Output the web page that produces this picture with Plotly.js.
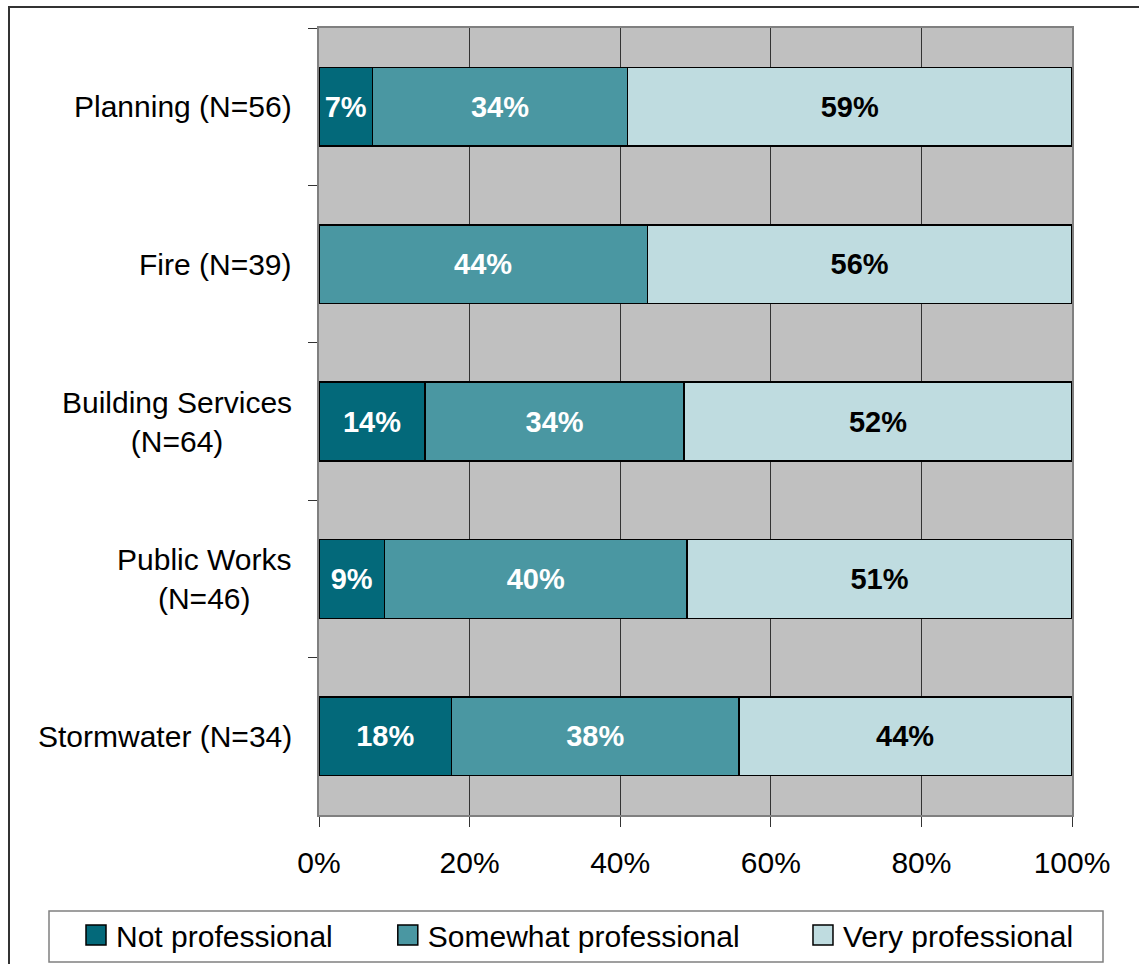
<!DOCTYPE html>
<html>
<head>
<meta charset="utf-8">
<script src="https://cdn.plot.ly/plotly-3.0.1.min.js"></script>
<style>
  body { margin: 0; background: #fff; }
  #chart { width: 1139px; height: 964px; }
</style>
</head>
<body>
<div id="chart"></div>
<script>
// categories, top to bottom
const categories = ['Planning (N=56)', 'Fire (N=39)', 'Building Services<br>(N=64)', 'Public Works<br>(N=46)', 'Stormwater (N=34)'];

// percent of respondents
const notProfessional = [7.1, 0, 14.1, 8.7, 17.6];
const somewhatProfessional = [33.9, 43.6, 34.4, 40.2, 38.2];
const veryProfessional = [59.0, 56.4, 51.5, 51.1, 44.1];

const seriesNames = ['Not professional', 'Somewhat professional', 'Very professional'];
const xTicks = [0, 20, 40, 60, 80, 100];

const FONT = '"Liberation Sans", Arial, sans-serif';
const pad = n => '\u00A0'.repeat(n);

function pctLabels(vals) {
    return vals.map(v => v > 0 ? Math.round(v) + '%' : '');
}

function barTrace(vals, name, color, textColor) {
    return {
        type: 'bar',
        orientation: 'h',
        x: vals,
        y: categories,
        name: name,
        text: pctLabels(vals),
        textposition: 'inside',
        insidetextanchor: 'middle',
        textangle: 0,
        constraintext: 'none',
        textfont: { family: FONT, size: 29, color: textColor, weight: 'bold' },
        marker: { color: color, line: { color: '#000000', width: 1.5 } },
        hoverinfo: 'name+x'
    };
}

const traces = [
    barTrace(notProfessional, seriesNames[0] + pad(6), '#03697A', '#ffffff'),
    barTrace(somewhatProfessional, seriesNames[1] + pad(7), '#4A97A2', '#ffffff'),
    barTrace(veryProfessional, seriesNames[2], '#BFDCE0', '#000000')
];

// px -> paper helpers (plot area is 319..1072 x 28..815)
const L = 319, R = 1072, T = 28, B = 815;
const px = x => (x - L) / (R - L);
const py = y => (B - y) / (B - T);

// y tick labels as centred multi-line annotations
const catLabels = categories.map(c => ({
    xref: 'paper', yref: 'y',
    x: px(294), y: c,
    xanchor: 'right', yanchor: 'middle',
    align: 'center',
    text: c,
    showarrow: false,
    font: { family: FONT, size: 30, color: '#000000' }
}));

const layout = {
    width: 1139,
    height: 964,
    margin: { l: L, r: 1139 - R, t: T, b: 964 - B, pad: 0, autoexpand: false },
    paper_bgcolor: '#ffffff',
    plot_bgcolor: '#C0C0C0',
    barmode: 'stack',
    bargap: 0.5,
    font: { family: FONT, size: 30, color: '#000000' },
    showlegend: true,
    legend: {
        orientation: 'h',
        x: px(76), xanchor: 'left',
        y: py(935), yanchor: 'middle',
        font: { family: FONT, size: 30, color: '#000000' },
        bgcolor: 'rgba(0,0,0,0)',
        borderwidth: 0,
        traceorder: 'normal'
    },
    xaxis: {
        range: [0, 100],
        tickvals: xTicks,
        ticktext: xTicks.map(v => v + '%'),
        showgrid: true,
        gridcolor: '#333333',
        gridwidth: 1,
        zeroline: false,
        showline: true,
        mirror: true,
        linecolor: '#808080',
        linewidth: 2,
        ticks: 'outside',
        ticklen: 10,
        tickcolor: '#333333',
        tickwidth: 1,
        ticklabelstandoff: 10,
        tickfont: { family: FONT, size: 30, color: '#000000' },
        fixedrange: true
    },
    yaxis: {
        type: 'category',
        categoryorder: 'array',
        categoryarray: categories,
        autorange: 'reversed',
        showgrid: false,
        zeroline: false,
        showline: true,
        mirror: true,
        linecolor: '#808080',
        linewidth: 2,
        ticks: 'outside',
        tickson: 'boundaries',
        ticklen: 9,
        tickcolor: '#333333',
        tickwidth: 1,
        showticklabels: false,
        fixedrange: true
    },
    annotations: catLabels,
    shapes: [
        // outer chart border
        {
            type: 'rect', xref: 'paper', yref: 'paper',
            x0: px(9), x1: px(1200), y0: py(7), y1: py(1000),
            line: { color: '#333333', width: 2 }, fillcolor: 'rgba(0,0,0,0)'
        },
        // legend box
        {
            type: 'rect', xref: 'paper', yref: 'paper',
            x0: px(49), x1: px(1103), y0: py(911), y1: py(962),
            line: { color: '#808080', width: 1.5 }, fillcolor: 'rgba(0,0,0,0)'
        }
    ]
};

Plotly.newPlot('chart', traces, layout, { displayModeBar: false, staticPlot: true }).then(gd => {
    // bigger legend squares, like the original
    gd.querySelectorAll('.legendpoints path').forEach(p => {
        p.setAttribute('d', 'M10,10H-10V-10H10Z');
    });
});
</script>
</body>
</html>
